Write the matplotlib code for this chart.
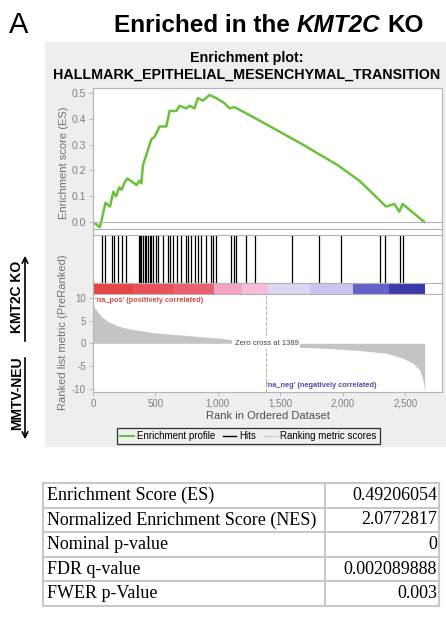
import matplotlib
matplotlib.use('Agg')
import matplotlib.pyplot as plt
from matplotlib.patches import Rectangle
from matplotlib.lines import Line2D

plt.rcParams['font.family'] = ['Liberation Sans', 'DejaVu Sans']

# running enrichment score
es_rank = [0, 55, 75, 100, 136, 163, 184, 211, 229, 256, 275, 349, 372, 387, 400, 427,
           467, 493, 533, 587, 613, 667, 693, 747, 773, 813, 840, 880, 933, 987, 1053,
           1093, 1133, 1307, 1680, 1960, 2133, 2347, 2413, 2453, 2480, 2653]
es_score = [0.0, -0.02, 0.02, 0.075, 0.06, 0.117, 0.10, 0.134, 0.125, 0.156, 0.169, 0.143,
            0.16, 0.15, 0.22, 0.26, 0.32, 0.33, 0.37, 0.37, 0.43, 0.43, 0.45, 0.44, 0.45,
            0.44, 0.48, 0.47, 0.492, 0.48, 0.46, 0.44, 0.445, 0.40, 0.30, 0.22, 0.16, 0.06,
            0.07, 0.04, 0.07, 0.0]

# positions of gene set members in the ranked list
hit_rank = [70, 100, 150, 170, 200, 230, 262,
            365, 375, 388, 400, 413, 427, 440, 455, 467, 480, 507, 520, 560, 600, 613,
            640, 675, 706, 747, 760, 787, 813, 840, 866, 904, 947, 962, 984,
            1109, 1128, 1149, 1229, 1296,
            1597, 1810, 1989, 2296, 2336, 2456, 2482]

# ranked list metric
metric_rank = [0, 13, 67, 120, 200, 307, 493, 760, 1027, 1133, 1250, 1389, 1500, 1656,
               1869, 2136, 2349, 2483, 2563, 2616, 2643, 2656]
metric_score = [9.0, 7.8, 5.9, 4.8, 3.8, 3.1, 2.3, 1.7, 1.1, 0.7, 0.35, 0.0, -0.4, -0.9,
                -1.1, -1.6, -2.2, -3.3, -4.4, -5.9, -8.1, -10.7]
zero_cross = 1389

# heat bar blocks
bar_edges = [0, 320, 650, 973, 1190, 1400, 1740, 2080, 2370, 2656]
bar_colors = ['#e64545', '#e8525a', '#ea6070', '#f4a4c4', '#f7bcd8',
              '#dcd6f2', '#cbc4ee', '#6462c6', '#3c3aa8']

x_ticks = [0, 500, 1000, 1500, 2000, 2500]
es_ticks = [0.0, 0.1, 0.2, 0.3, 0.4, 0.5]
metric_ticks = [-10, -5, 0, 5, 10]

stat_names = ['Enrichment Score (ES)', 'Normalized Enrichment Score (NES)',
              'Nominal p-value', 'FDR q-value', 'FWER p-Value']
stat_values = ['0.49206054', '2.0772817', '0', '0.002089888', '0.003']

W, H = 446, 625
fig = plt.figure(figsize=(W / 100, H / 100), dpi=100)

def box(x0, y0, x1, y1):
    return [x0 / W, 1 - y1 / H, (x1 - x0) / W, (y1 - y0) / H]

SPINE = '#b4b4b4'
TICK = '#808080'
GREEN = '#6cc13c'
XMAX = 2795

bg = fig.add_axes([0, 0, 1, 1])
bg.set_zorder(-1)
bg.set_xlim(0, W)
bg.set_ylim(H, 0)
bg.axis('off')
bg.add_patch(Rectangle((45, 42), W - 45, 405, color='#eeeeee', lw=0))

def style(ax):
    for s in ax.spines.values():
        s.set_color(SPINE)
        s.set_linewidth(0.8)
    ax.tick_params(colors=SPINE, labelcolor=TICK, length=3, width=0.6, pad=2)
    ax.set_xlim(0, XMAX)

# enrichment score
ax_es = fig.add_axes(box(93, 88, 442, 229))
style(ax_es)
ax_es.plot(es_rank, es_score, color=GREEN, lw=1.8, solid_joinstyle='round')
ax_es.axhline(0, color=SPINE, lw=0.8)
ax_es.set_ylim(-0.027, 0.519)
ax_es.set_yticks(es_ticks)
ax_es.set_yticklabels([f'{v:.1f}' for v in es_ticks], fontsize=7.5)
ax_es.set_xticks([])

# hits
ax_hit = fig.add_axes(box(93, 229, 442, 283))
style(ax_hit)
ax_hit.vlines(hit_rank, 0, 0.89, color='black', lw=0.9)
ax_hit.axhline(0.89, color=SPINE, lw=0.8)
ax_hit.set_ylim(0, 1)
ax_hit.set_xticks([])
ax_hit.set_yticks([])

# heat bar
ax_bar = fig.add_axes(box(93, 283, 442, 294))
style(ax_bar)
for i, c in enumerate(bar_colors):
    ax_bar.axvspan(bar_edges[i], bar_edges[i + 1], color=c, lw=0)
ax_bar.set_xticks([])
ax_bar.set_yticks([])

# ranked list metric
ax_m = fig.add_axes(box(93, 294, 442, 392))
style(ax_m)
ax_m.fill_between(metric_rank, metric_score, 0, color='#c4c4c4', lw=0)
ax_m.axvline(zero_cross, color='#b0b0b0', ls='--', lw=0.7)
ax_m.set_ylim(-10.75, 10.88)
ax_m.set_yticks(metric_ticks)
ax_m.set_yticklabels([str(v) for v in metric_ticks], fontsize=7)
ax_m.set_xticks(x_ticks)
ax_m.set_xticklabels([f'{v:,}' for v in x_ticks], fontsize=7)
ax_m.text(zero_cross, 0, f'Zero cross at {zero_cross}', fontsize=5.5, color='#404040',
          ha='center', va='center',
          bbox=dict(facecolor='white', edgecolor='none', pad=1.5))
ax_m.text(15, 9.5, "'na_pos' (positively correlated)", fontsize=5.3, color='#d84848',
          fontweight='bold', ha='left', va='center')
ax_m.text(zero_cross, -9.4, "'na_neg' (negatively correlated)", fontsize=5.3,
          color='#5a4aa0', fontweight='bold', ha='left', va='center')

bg.text(64, 163, 'Enrichment score (ES)', rotation=90, fontsize=8, color='#707070',
        ha='center', va='center')
bg.text(63, 332, 'Ranked list metric (PreRanked)', rotation=90, fontsize=8,
        color='#707070', ha='center', va='center')
bg.text(268, 416, 'Rank in Ordered Dataset', fontsize=8, color='#505050',
        ha='center', va='center')

handles = [Line2D([], [], color=GREEN, lw=1.5), Line2D([], [], color='black', lw=1),
           Line2D([], [], color='#d0d0d0', lw=1)]
leg = fig.legend(handles, ['Enrichment profile', 'Hits', 'Ranking metric scores'],
                 loc='center', bbox_to_anchor=(248.5 / W, 1 - 436 / H), ncol=3,
                 fontsize=7, frameon=True, fancybox=False, edgecolor='black',
                 facecolor='#f0f0f0', handlelength=1.4, handletextpad=0.3,
                 columnspacing=0.8, borderpad=0.3)
leg.get_frame().set_linewidth(0.9)

bg.text(247, 58, 'Enrichment plot:', fontsize=10.3, fontweight='bold', ha='center',
        va='center')
bg.text(247, 75, 'HALLMARK_EPITHELIAL_MESENCHYMAL_TRANSITION', fontsize=10.3,
        fontweight='bold', ha='center', va='center')

# main title with italic gene name
bg.text(19, 25, 'A', fontsize=21, ha='center', va='center')
fig.canvas.draw()
renderer = fig.canvas.get_renderer()
parts = [('Enriched in the', 'normal'), ('KMT2C', 'italic'), ('KO', 'normal')]

def width(s, st):
    t = bg.text(0, 0, s, fontsize=17.5, fontweight='bold', style=st)
    w = t.get_window_extent(renderer).width
    t.remove()
    return w

space = width('x x', 'normal') - width('xx', 'normal')
widths = [width(s, st) for s, st in parts]
x = 269 - (sum(widths) + 2 * space) / 2
for (s, st), w in zip(parts, widths):
    bg.text(x, 25, s, fontsize=17.5, fontweight='bold', style=st, ha='left', va='center')
    x += w + space

# group labels on the left
bg.text(17, 297, 'KMT2C KO', rotation=90, fontsize=10, fontweight='bold',
        ha='center', va='center')
bg.text(17, 393, 'MMTV-NEU', rotation=90, fontsize=10, fontweight='bold',
        ha='center', va='center')
bg.annotate('', xy=(25, 253), xytext=(25, 344),
            arrowprops=dict(arrowstyle='->', lw=1.2, color='black'))
bg.annotate('', xy=(25, 442), xytext=(25, 355),
            arrowprops=dict(arrowstyle='->', lw=1.2, color='black'))

# statistics table
row_h = 24.6
top = 483
for i, (name, val) in enumerate(zip(stat_names, stat_values)):
    yc = top + row_h * (i + 0.5)
    bg.text(47, yc, name, fontsize=13, family='Liberation Serif', ha='left',
            va='center')
    bg.text(437, yc, val, fontsize=13, family='Liberation Serif', ha='right',
            va='center')
for i in range(len(stat_names) + 1):
    bg.plot([43, 439], [top + row_h * i] * 2, color='#c8c8c8', lw=1.5)
for xv in [43, 325, 439]:
    bg.plot([xv, xv], [top, top + row_h * len(stat_names)], color='#c8c8c8', lw=1.5)

fig.savefig('out.png', dpi=100)
